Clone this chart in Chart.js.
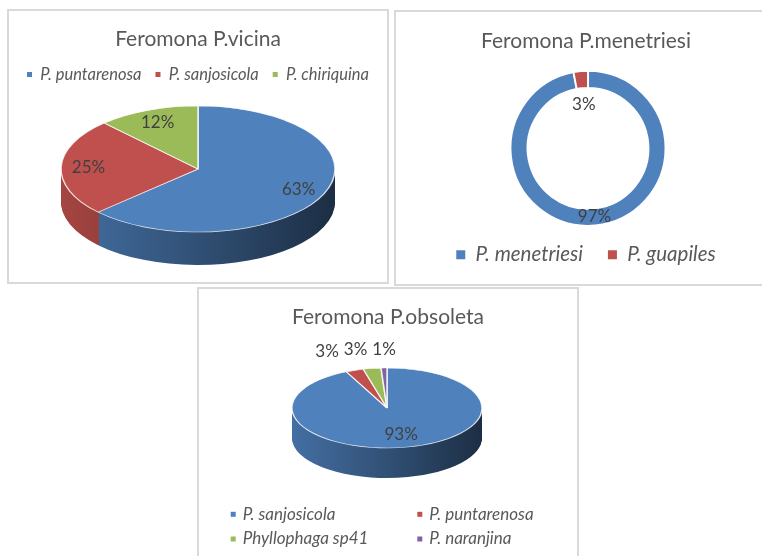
<!DOCTYPE html>
<html><head><meta charset="utf-8">
<script src="https://cdn.jsdelivr.net/npm/chart.js@4.4.1/dist/chart.umd.min.js"></script>
<style>
html,body{margin:0;padding:0;background:#fff;width:762px;height:556px;overflow:hidden;position:relative}
.panel{position:absolute;border:2px solid #d9d9d9;background:#fff;overflow:hidden;box-sizing:border-box}
.panel canvas{position:absolute;left:0;top:0}
</style></head><body>
<div class="panel" style="left:7px;top:9px;width:382px;height:275px"><canvas id="c1" width="378" height="271"></canvas></div>
<div class="panel" style="left:394px;top:10px;width:384px;height:276px"><canvas id="c2" width="380" height="272"></canvas></div>
<div class="panel" style="left:197px;top:287px;width:382px;height:273px"><canvas id="c3" width="378" height="269"></canvas></div>
<script>
// ---- data ----
const vicinaTitle = 'Feromona P.vicina';
const vicinaLabels = ['P. puntarenosa', 'P. sanjosicola', 'P. chiriquina'];
const vicinaValues = [63, 25, 12];

const menetriesiTitle = 'Feromona P.menetriesi';
const menetriesiLabels = ['P. menetriesi', 'P. guapiles'];
const menetriesiValues = [97, 3];

const obsoletaTitle = 'Feromona P.obsoleta';
const obsoletaLabels = ['P. sanjosicola', 'P. puntarenosa', 'Phyllophaga sp41', 'P. naranjina'];
const obsoletaValues = [93, 3, 3, 1];

// ---- styles ----
const BLUE = '#4f81bd', RED = '#c0504d', GREEN = '#9bbb59', PURPLE = '#8064a2';
const FONT = 'Lato, "Open Sans", sans-serif';
Chart.defaults.font.family = FONT;

function shade(hex, k) {
  const n = parseInt(hex.slice(1), 16);
  const r = (n >> 16) & 255, g = (n >> 8) & 255, b = n & 255;
  return 'rgb(' + Math.round(r * k) + ',' + Math.round(g * k) + ',' + Math.round(b * k) + ')';
}

function noBorderLabels(chart) {
  return Chart.overrides.doughnut.plugins.legend.labels.generateLabels(chart)
    .map(it => Object.assign(it, { lineWidth: 0, strokeStyle: 'rgba(0,0,0,0)' }));
}

// Places the library's arcs as an (optionally extruded) ellipse and writes % labels
const ellipsePie = {
  id: 'ellipsePie',
  beforeDatasetDraw(chart, args, o) {
    const meta = args.meta, ctx = chart.ctx;
    const a0 = meta.data[0];
    const { x, y, outerRadius } = a0.getProps(['x', 'y', 'outerRadius'], true);
    const sx = o.rx / outerRadius, sy = o.ry / outerRadius;
    const apply = (dy) => { ctx.translate(o.cx, o.cy + dy); ctx.scale(sx, sy); ctx.translate(-x, -y); };
    const colors = chart.data.datasets[0].backgroundColor;
    if (o.depth > 0) {
      const grads = meta.data.map((arc, i) => {
        const g = ctx.createLinearGradient(x - outerRadius, 0, x + outerRadius, 0);
        g.addColorStop(0, shade(colors[i], 0.86));
        g.addColorStop(0.5, shade(colors[i], 0.62));
        g.addColorStop(1, shade(colors[i], 0.36));
        return g;
      });
      for (let d = o.depth; d >= 1; d--) {
        ctx.save(); apply(d);
        meta.data.forEach((arc, i) => {
          const ghost = Object.create(arc);
          ghost.options = Object.assign({}, arc.options, { backgroundColor: grads[i], borderWidth: 0 });
          ghost.draw(ctx);
        });
        ctx.restore();
      }
    }
    ctx.save(); apply(0);
  },
  afterDatasetDraw(chart) { chart.ctx.restore(); },
  afterDatasetsDraw(chart, args, o) {
    const ctx = chart.ctx;
    const meta = chart.getDatasetMeta(0);
    const data = chart.data.datasets[0].data;
    const total = data.reduce((a, b) => a + b, 0);
    ctx.save();
    ctx.font = o.labelSize + 'px ' + FONT;
    ctx.fillStyle = '#404040';
    ctx.textAlign = 'center';
    ctx.textBaseline = 'middle';
    const outs = [];
    meta.data.forEach((arc, i) => {
      const p = arc.getProps(['startAngle', 'endAngle', 'innerRadius', 'outerRadius'], true);
      const mid = (p.startAngle + p.endAngle) / 2;
      const pct = Math.round(data[i] / total * 100);
      const txt = pct + '%';
      const small = pct < o.smallPct;
      const c = Math.cos(mid), s = Math.sin(mid);
      if (o.ring) {
        const outerS = o.rx, innerS = o.rx * p.innerRadius / p.outerRadius;
        const rr = small ? innerS - o.smallInset : (outerS + innerS) / 2;
        ctx.fillText(txt, o.cx + c * rr, o.cy + s * rr);
      } else if (small) {
        outs.push({ txt, x: o.cx + c * o.rx, y: o.cy + s * o.ry - o.outLift, w: ctx.measureText(txt).width });
      } else {
        ctx.fillText(txt, o.cx + c * o.inside * o.rx, o.cy + s * o.inside * o.ry);
      }
    });
    outs.sort((a, b) => b.x - a.x);
    for (let k = 1; k < outs.length; k++) {
      const lim = outs[k - 1].x - (outs[k - 1].w + outs[k].w) / 2 - 5;
      if (outs[k].x > lim) outs[k].x = lim;
    }
    outs.forEach(t => ctx.fillText(t.txt, t.x, t.y));
    ctx.restore();
  }
};

// two-column legend
const gridLegend = {
  id: 'gridLegend',
  afterDraw(chart, args, o) {
    if (!o || !o.cols) return;
    const ctx = chart.ctx;
    const colors = chart.data.datasets[0].backgroundColor;
    ctx.save();
    ctx.font = 'italic ' + o.size + 'px ' + FONT;
    ctx.textBaseline = 'middle';
    ctx.textAlign = 'left';
    chart.data.labels.forEach((lab, i) => {
      const x = o.cols[i % o.cols.length], y = o.rows[Math.floor(i / o.cols.length)];
      ctx.fillStyle = colors[i];
      ctx.fillRect(x, y - o.box / 2, o.box, o.box);
      ctx.fillStyle = '#595959';
      ctx.fillText(lab, x + o.box + o.gap, y);
    });
    ctx.restore();
  }
};

const titleOpts = (text, top) => ({
  display: true, text, color: '#595959',
  font: { size: 21, weight: 'normal' }, padding: { top, bottom: 0 }
});

new Chart(document.getElementById('c1'), {
  type: 'pie',
  data: { labels: vicinaLabels, datasets: [{ data: vicinaValues, backgroundColor: [BLUE, RED, GREEN],
    borderColor: 'rgba(255,255,255,0.85)', borderWidth: 1, clip: false }] },
  options: {
    responsive: false, animation: false, events: [],
    plugins: {
      title: titleOpts(vicinaTitle, 16),
      legend: { position: 'top', labels: { boxWidth: 5, boxHeight: 5, padding: 14, color: '#595959',
        font: { size: 16.5, style: 'italic' }, generateLabels: noBorderLabels } },
      tooltip: { enabled: false },
      ellipsePie: { cx: 189, cy: 158, rx: 137, ry: 63, depth: 33, inside: 0.8, smallPct: 5, outLift: 19, labelSize: 17 }
    }
  },
  plugins: [ellipsePie]
});

new Chart(document.getElementById('c2'), {
  type: 'doughnut',
  data: { labels: menetriesiLabels, datasets: [{ data: menetriesiValues, backgroundColor: [BLUE, RED],
    borderColor: '#fff', borderWidth: 2, clip: false }] },
  options: {
    responsive: false, animation: false, events: [], cutout: '78%',
    layout: { padding: { bottom: 9 } },
    plugins: {
      title: titleOpts(menetriesiTitle, 17),
      legend: { position: 'bottom', labels: { boxWidth: 9, boxHeight: 9, padding: 25, color: '#595959',
        font: { size: 20.5, style: 'italic' }, generateLabels: noBorderLabels } },
      tooltip: { enabled: false },
      ellipsePie: { cx: 192, cy: 136.3, rx: 77.5, ry: 77.5, depth: 0, ring: true, smallPct: 5, smallInset: 16, labelSize: 17 }
    }
  },
  plugins: [ellipsePie]
});

new Chart(document.getElementById('c3'), {
  type: 'pie',
  data: { labels: obsoletaLabels, datasets: [{ data: obsoletaValues, backgroundColor: [BLUE, RED, GREEN, PURPLE],
    borderColor: 'rgba(255,255,255,0.85)', borderWidth: 1, clip: false }] },
  options: {
    responsive: false, animation: false, events: [],
    layout: { padding: { bottom: 100 } },
    plugins: {
      title: titleOpts(obsoletaTitle, 15.4),
      legend: { display: false },
      tooltip: { enabled: false },
      ellipsePie: { cx: 188, cy: 119, rx: 95, ry: 40, depth: 30, inside: 0.68, smallPct: 5, outLift: 19, labelSize: 17 },
      gridLegend: { cols: [31.7, 218.3], rows: [225.3, 250], box: 5, gap: 7, size: 17 }
    }
  },
  plugins: [ellipsePie, gridLegend]
});
</script>
</body></html>
